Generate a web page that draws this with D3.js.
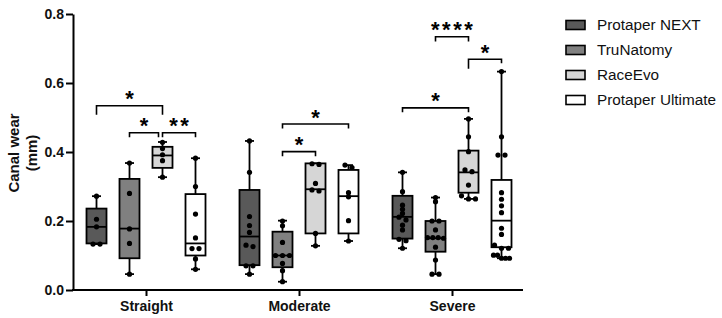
<!DOCTYPE html>
<html>
<head>
<meta charset="utf-8">
<script src="https://cdn.jsdelivr.net/npm/d3@7"></script>
<style>
  body { margin: 0; background: #fff; }
  svg { display: block; font-family: "Liberation Sans", Arial, sans-serif; }
</style>
</head>
<body>
<svg id="chart" width="722" height="318"></svg>
<script>
// categories and series
var categories = ['Straight', 'Moderate', 'Severe'];
var series = ['Protaper NEXT', 'TruNatomy', 'RaceEvo', 'Protaper Ultimate'];
var fills = ['#595959', '#808080', '#d6d6d6', '#ffffff'];
var yTicks = [0.0, 0.2, 0.4, 0.6, 0.8];

// box stats per series: [min, q1, median, q3, max]
var straightBox = [
  [0.133, 0.135, 0.183, 0.236, 0.272],
  [0.046, 0.092, 0.178, 0.322, 0.368],
  [0.327, 0.354, 0.390, 0.415, 0.429],
  [0.060, 0.100, 0.135, 0.278, 0.382]
];
var moderateBox = [
  [0.046, 0.072, 0.155, 0.290, 0.432],
  [0.024, 0.066, 0.100, 0.169, 0.201],
  [0.128, 0.164, 0.292, 0.367, 0.367],
  [0.142, 0.164, 0.272, 0.348, 0.362]
];
var severeBox = [
  [0.121, 0.149, 0.212, 0.273, 0.341],
  [0.046, 0.111, 0.150, 0.200, 0.268],
  [0.264, 0.282, 0.341, 0.404, 0.496],
  [0.092, 0.124, 0.201, 0.319, 0.633]
];

// individual measurements
var straightPoints = [
  [0.272, 0.205, 0.183, 0.133, 0.133],
  [0.368, 0.280, 0.177, 0.135, 0.046],
  [0.428, 0.410, 0.392, 0.375, 0.327],
  [0.382, 0.300, 0.220, 0.151, 0.120, 0.120, 0.090, 0.060]
];
var moderatePoints = [
  [0.432, 0.341, 0.213, 0.187, 0.167, 0.130, 0.126, 0.070, 0.070, 0.046],
  [0.200, 0.186, 0.138, 0.100, 0.100, 0.100, 0.077, 0.056, 0.024],
  [0.366, 0.364, 0.309, 0.290, 0.287, 0.164, 0.128],
  [0.362, 0.355, 0.282, 0.270, 0.201, 0.142]
];
var severePoints = [
  [0.341, 0.285, 0.246, 0.234, 0.222, 0.211, 0.203, 0.188, 0.174, 0.147, 0.143, 0.121],
  [0.268, 0.256, 0.200, 0.200, 0.174, 0.152, 0.152, 0.152, 0.150, 0.124, 0.087, 0.046, 0.046],
  [0.496, 0.444, 0.401, 0.348, 0.343, 0.304, 0.273, 0.264, 0.264],
  [0.633, 0.444, 0.391, 0.391, 0.282, 0.263, 0.244, 0.224, 0.179, 0.161, 0.130, 0.121, 0.121, 0.101, 0.101, 0.092, 0.092, 0.092]
];

var boxes = [straightBox, moderateBox, severeBox];
var points = [straightPoints, moderatePoints, severePoints];

// significance brackets: category, from series, to series, bar level, leg ends
var brackets = [
  {cat: 0, from: 0, to: 2, y: 0.534, yl: 0.508, yr: 0.508, label: '*'},
  {cat: 0, from: 1, to: 2, y: 0.456, yl: 0.443, yr: 0.443, label: '*'},
  {cat: 0, from: 2, to: 3, y: 0.456, yl: 0.443, yr: 0.443, label: '**'},
  {cat: 1, from: 1, to: 2, y: 0.401, yl: 0.388, yr: 0.388, label: '*'},
  {cat: 1, from: 1, to: 3, y: 0.481, yl: 0.468, yr: 0.468, label: '*'},
  {cat: 2, from: 0, to: 2, y: 0.528, yl: 0.515, yr: 0.515, label: '*'},
  {cat: 2, from: 1, to: 2, y: 0.734, yl: 0.720, yr: 0.720, label: '****'},
  {cat: 2, from: 2, to: 3, y: 0.669, yl: 0.641, yr: 0.657, label: '*'}
];

var svg = d3.select('#chart');

var y = d3.scaleLinear().domain([0, 0.8]).range([290, 14]);
var x = d3.scalePoint().domain(categories).range([146, 452]);
var xs = d3.scaleBand().domain(d3.range(series.length)).range([-66, 66]);
var boxW = 20, capW = 9;

function cx(c, s) { return x(categories[c]) + xs(s) + xs.bandwidth() / 2; }

// y axis
var yAxis = svg.append('g')
  .attr('transform', 'translate(73,0)')
  .call(d3.axisLeft(y).tickValues(yTicks).tickFormat(d3.format('.1f')).tickSize(7).tickSizeOuter(0));
yAxis.selectAll('path, line').attr('stroke', '#000').attr('stroke-width', 2);
yAxis.selectAll('text').attr('font-size', 14).attr('font-weight', 'bold')
  .attr('fill', '#111').attr('font-family', '"Liberation Sans", Arial, sans-serif').attr('x', -9);

// x axis
var xAxis = svg.append('g')
  .attr('transform', 'translate(0,290)')
  .call(d3.axisBottom(x).tickSize(6).tickSizeOuter(0));
xAxis.select('.domain').attr('d', 'M72,0H523');
xAxis.selectAll('path, line').attr('stroke', '#000').attr('stroke-width', 2);
xAxis.selectAll('text').attr('font-size', 14).attr('font-weight', 'bold')
  .attr('fill', '#111').attr('font-family', '"Liberation Sans", Arial, sans-serif').attr('y', 11);

// y title
svg.append('text')
  .attr('transform', 'translate(19,153) rotate(-90)')
  .attr('text-anchor', 'middle')
  .attr('font-size', 15).attr('font-weight', 'bold').attr('fill', '#111')
  .text('Canal wear');
svg.append('text')
  .attr('transform', 'translate(37,153) rotate(-90)')
  .attr('text-anchor', 'middle')
  .attr('font-size', 15).attr('font-weight', 'bold').attr('fill', '#111')
  .text('(mm)');

// spread overlapping dots sideways, centred like a scatter column
function spread(vals) {
  var sorted = vals.map(function(v, i) { return {v: v, i: i}; })
    .sort(function(a, b) { return b.v - a.v; });
  var groups = [], cur = [];
  sorted.forEach(function(p, k) {
    if (k > 0 && Math.abs(y(p.v) - y(sorted[k - 1].v)) < 3.5) cur.push(p);
    else { if (cur.length) groups.push(cur); cur = [p]; }
  });
  if (cur.length) groups.push(cur);
  var out = [];
  groups.forEach(function(g) {
    var step = g.length > 1 ? Math.min(7, 16 / (g.length - 1)) : 0;
    g.forEach(function(p, j) { out.push({v: p.v, dx: (j - (g.length - 1) / 2) * step}); });
  });
  return out;
}

var plot = svg.append('g');

categories.forEach(function(cat, c) {
  series.forEach(function(s, si) {
    var b = boxes[c][si];
    var xc = cx(c, si);
    var g = plot.append('g');

    // whiskers
    g.append('line').attr('x1', xc).attr('x2', xc).attr('y1', y(b[4])).attr('y2', y(b[3]))
      .attr('stroke', '#000').attr('stroke-width', 1.8);
    g.append('line').attr('x1', xc).attr('x2', xc).attr('y1', y(b[1])).attr('y2', y(b[0]))
      .attr('stroke', '#000').attr('stroke-width', 1.8);
    [b[0], b[4]].forEach(function(v) {
      g.append('line').attr('x1', xc - capW / 2).attr('x2', xc + capW / 2)
        .attr('y1', y(v)).attr('y2', y(v)).attr('stroke', '#000').attr('stroke-width', 1.8);
    });

    // box
    g.append('rect')
      .attr('x', xc - boxW / 2).attr('width', boxW)
      .attr('y', y(b[3])).attr('height', Math.max(0, y(b[1]) - y(b[3])))
      .attr('fill', fills[si]).attr('stroke', '#000').attr('stroke-width', 1.8);
    g.append('line').attr('x1', xc - boxW / 2).attr('x2', xc + boxW / 2)
      .attr('y1', y(b[2])).attr('y2', y(b[2])).attr('stroke', '#000').attr('stroke-width', 1.8);

    // dots
    g.selectAll('circle').data(spread(points[c][si])).enter()
      .append('circle')
      .attr('cx', function(d) { return xc + d.dx; })
      .attr('cy', function(d) { return y(d.v); })
      .attr('r', 2.6)
      .attr('fill', '#000');
  });
});

// brackets
var br = svg.append('g');
brackets.forEach(function(d) {
  var x1 = cx(d.cat, d.from), x2 = cx(d.cat, d.to);
  var shared = brackets.some(function(o) {
    return o !== d && o.cat === d.cat && o.y === d.y && o.from === d.to;
  });
  if (shared) x2 -= 4;
  br.append('path')
    .attr('d', 'M' + x1 + ',' + y(d.yl) + 'V' + y(d.y) + 'H' + x2 + 'V' + y(d.yr))
    .attr('fill', 'none').attr('stroke', '#000').attr('stroke-width', 1.6);
  br.append('text')
    .attr('x', (x1 + x2) / 2 + (d.label.length > 1 ? 1.2 : 0))
    .attr('y', y(d.y) + 0.5)
    .attr('text-anchor', 'middle')
    .attr('font-size', 22).attr('font-weight', 'bold')
    .attr('letter-spacing', d.label.length > 1 ? 2.5 : 0)
    .attr('fill', '#000')
    .text(d.label);
});

// legend
var legend = svg.append('g');
series.forEach(function(s, i) {
  var ly = 25 + i * 25;
  legend.append('rect').attr('x', 566).attr('y', ly - 4.5).attr('width', 19).attr('height', 9)
    .attr('fill', fills[i]).attr('stroke', '#000').attr('stroke-width', 1.6);
  legend.append('text').attr('x', 597).attr('y', ly).attr('dy', '0.35em')
    .attr('font-size', 15.3).attr('fill', '#111').text(s);
});
</script>
</body>
</html>
